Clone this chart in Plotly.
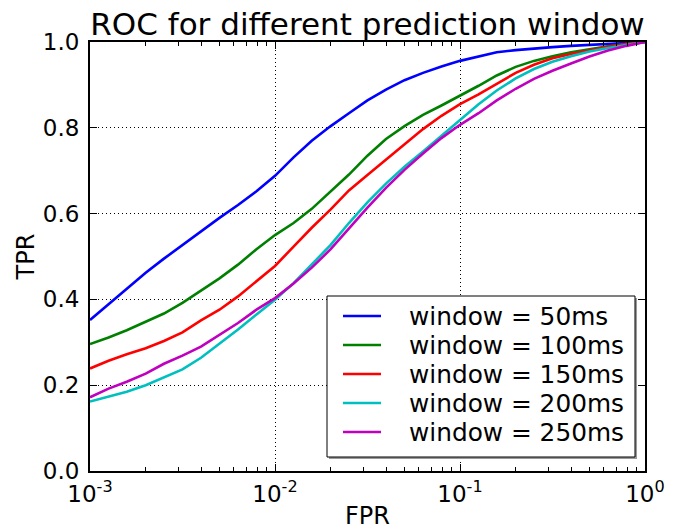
import plotly.graph_objects as go

# False positive rate grid (log-spaced, 10^-3 .. 10^0)
fpr = [0.001, 0.00126, 0.00158, 0.002, 0.00251, 0.00316, 0.00398, 0.00501,
       0.00631, 0.00794, 0.01, 0.0126, 0.0158, 0.02, 0.0251, 0.0316, 0.0398,
       0.0501, 0.0631, 0.0794, 0.1, 0.126, 0.158, 0.2, 0.251, 0.316, 0.398,
       0.501, 0.631, 0.794, 1.0]

# True positive rate for each prediction window
tpr_50 = [0.352, 0.388, 0.425, 0.462, 0.495, 0.527, 0.560, 0.590, 0.620, 0.652,
          0.688, 0.731, 0.770, 0.804, 0.834, 0.864, 0.889, 0.911, 0.928, 0.943,
          0.956, 0.967, 0.976, 0.981, 0.985, 0.988, 0.991, 0.993, 0.996, 0.998, 1.0]
tpr_100 = [0.296, 0.311, 0.328, 0.347, 0.367, 0.392, 0.420, 0.449, 0.481, 0.517,
           0.550, 0.578, 0.611, 0.651, 0.691, 0.735, 0.774, 0.804, 0.830, 0.852,
           0.874, 0.898, 0.922, 0.942, 0.956, 0.967, 0.976, 0.983, 0.990, 0.995, 1.0]
tpr_150 = [0.239, 0.257, 0.272, 0.286, 0.303, 0.323, 0.351, 0.376, 0.407, 0.442,
           0.478, 0.523, 0.567, 0.610, 0.654, 0.690, 0.725, 0.761, 0.797, 0.828,
           0.855, 0.878, 0.902, 0.928, 0.947, 0.962, 0.972, 0.981, 0.989, 0.995, 1.0]
tpr_200 = [0.162, 0.173, 0.185, 0.200, 0.219, 0.237, 0.264, 0.296, 0.330, 0.365,
           0.399, 0.438, 0.481, 0.527, 0.578, 0.626, 0.670, 0.709, 0.745, 0.782,
           0.820, 0.855, 0.887, 0.915, 0.937, 0.954, 0.967, 0.978, 0.986, 0.993, 1.0]
tpr_250 = [0.172, 0.192, 0.208, 0.227, 0.250, 0.269, 0.290, 0.317, 0.345, 0.376,
           0.403, 0.437, 0.474, 0.517, 0.566, 0.614, 0.660, 0.702, 0.740, 0.776,
           0.807, 0.834, 0.864, 0.891, 0.914, 0.933, 0.950, 0.966, 0.980, 0.991, 1.0]

series_names = ["window = 50ms", "window = 100ms", "window = 150ms",
                "window = 200ms", "window = 250ms"]
series_values = [tpr_50, tpr_100, tpr_150, tpr_200, tpr_250]
series_colors = ["#0000ff", "#008000", "#ff0000", "#00bfbf", "#bf00bf"]

x_tick_vals = [0.001, 0.01, 0.1, 1]
x_tick_text = ["10<sup>-3</sup>", "10<sup>-2</sup>", "10<sup>-1</sup>", "10<sup>0</sup>"]
x_minor_vals = [0.002, 0.003, 0.004, 0.005, 0.006, 0.007, 0.008, 0.009,
                0.02, 0.03, 0.04, 0.05, 0.06, 0.07, 0.08, 0.09,
                0.2, 0.3, 0.4, 0.5, 0.6, 0.7, 0.8, 0.9]
y_tick_vals = [0.0, 0.2, 0.4, 0.6, 0.8, 1.0]
y_tick_text = ["0.0", "0.2", "0.4", "0.6", "0.8", "1.0"]

FONT = "DejaVu Sans"

# Canvas and plot-area geometry (pixels)
W, H = 681, 530
L, R, T, B = 90, 36, 42, 59
PW, PH = W - L - R, H - T - B


def px(x):
    """Horizontal pixel -> plot-area (domain) fraction."""
    return (x - L) / PW


def py(y):
    """Vertical pixel (from top) -> plot-area (domain) fraction."""
    return (H - B - y) / PH


fig = go.Figure()
for name, vals, color in zip(series_names, series_values, series_colors):
    fig.add_trace(go.Scatter(
        x=fpr, y=vals, mode="lines", name=name,
        line=dict(color=color, width=2.6),
    ))

# Legend box drawn in the lower-right corner of the axes, with a soft shadow
box_l, box_r, box_t, box_b = 327, 635, 296, 457
shapes = [
    dict(type="rect", xref="x domain", yref="y domain",
         x0=px(box_l + 2), x1=px(box_r + 2), y0=py(box_b + 2), y1=py(box_t + 2),
         line=dict(width=0), fillcolor="#9a9a9a", layer="above"),
    dict(type="rect", xref="x domain", yref="y domain",
         x0=px(box_l), x1=px(box_r), y0=py(box_b), y1=py(box_t),
         line=dict(color="black", width=1), fillcolor="white", layer="above"),
]
annotations = []
row0, row_step = 316, 29
for i, (name, color) in enumerate(zip(series_names, series_colors)):
    yc = row0 + i * row_step
    shapes.append(dict(type="line", xref="x domain", yref="y domain",
                       x0=px(343), x1=px(381), y0=py(yc), y1=py(yc),
                       line=dict(color=color, width=2.6), layer="above"))
    annotations.append(dict(xref="x domain", yref="y domain",
                            x=px(407), y=py(yc), xanchor="left", yanchor="middle",
                            text=name, showarrow=False,
                            font=dict(family=FONT, size=24.8, color="black")))

fig.update_layout(
    width=W, height=H,
    margin=dict(l=L, r=R, t=T, b=B, autoexpand=False),
    paper_bgcolor="white", plot_bgcolor="white",
    font=dict(family=FONT, size=23, color="black"),
    title=dict(text="ROC for different prediction window",
               font=dict(family=FONT, size=31, color="black"),
               x=0.5, xref="paper", xanchor="center",
               y=1 - 24 / H, yref="container", yanchor="middle"),
    showlegend=False,
    shapes=shapes,
    annotations=annotations,
)

dot = "1px,3px"
fig.update_xaxes(
    type="log", range=[-3, 0], automargin=False,
    tickvals=x_tick_vals, ticktext=x_tick_text,
    ticks="inside", ticklen=7, tickwidth=1, tickcolor="black",
    minor=dict(tickvals=x_minor_vals, ticks="inside", ticklen=4,
               tickwidth=1, tickcolor="black", showgrid=False),
    showline=True, linecolor="black", linewidth=2, mirror="allticks",
    showgrid=True, gridcolor="black", gridwidth=1, griddash=dot,
    zeroline=False, ticklabelstandoff=1,
    title=dict(text="FPR", font=dict(family=FONT, size=24), standoff=10),
    tickfont=dict(family=FONT, size=23),
)
fig.update_yaxes(
    range=[0, 1], automargin=False,
    tickvals=y_tick_vals, ticktext=y_tick_text,
    ticks="inside", ticklen=7, tickwidth=1, tickcolor="black",
    showline=True, linecolor="black", linewidth=2, mirror="allticks",
    showgrid=True, gridcolor="black", gridwidth=1, griddash=dot,
    zeroline=False, ticklabelstandoff=4,
    title=dict(text="TPR", font=dict(family=FONT, size=24), standoff=1),
    tickfont=dict(family=FONT, size=23),
)

fig.write_html("out.html")
